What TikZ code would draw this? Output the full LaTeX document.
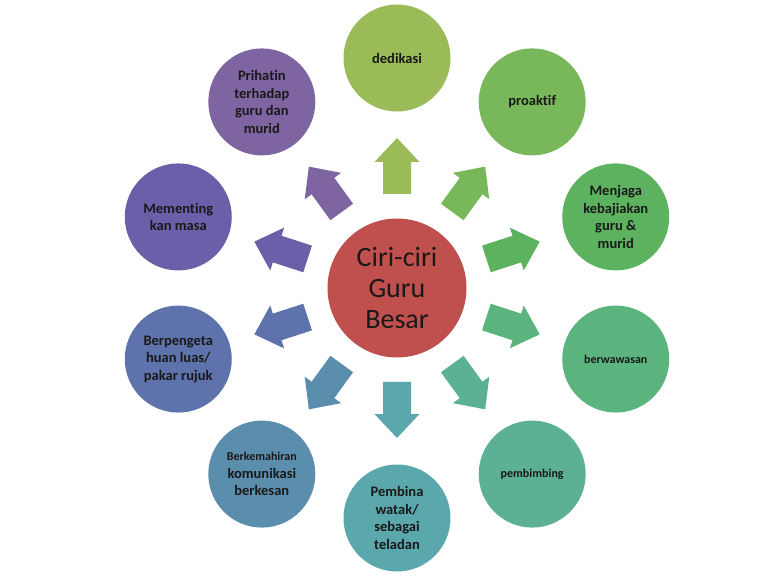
\documentclass[tikz,border=0pt]{standalone}
\usepackage{fontspec}
\setmainfont{Carlito}[Ligatures={NoCommon,TeX}]
\usetikzlibrary{calc}
\definecolor{cRed}{HTML}{C0504D}
\definecolor{c0}{HTML}{9BBB59}
\definecolor{c1}{HTML}{78B85A}
\definecolor{c2}{HTML}{5DB25F}
\definecolor{c3}{HTML}{5BB37D}
\definecolor{c4}{HTML}{5BB096}
\definecolor{c5}{HTML}{5AA8AC}
\definecolor{c6}{HTML}{5B8DAC}
\definecolor{c7}{HTML}{5E72AB}
\definecolor{c8}{HTML}{6A5FA8}
\definecolor{c9}{HTML}{7F64A2}
\begin{document}
\begin{tikzpicture}[x=1pt,y=1pt,
  leaf/.style={circle, minimum size=107pt, inner sep=0pt, align=center,
    font=\bfseries\fontsize{14.5}{17.5}\selectfont, text=black!90},
  hub/.style={circle, fill=cRed, minimum size=139pt, inner sep=0pt, align=center,
    font=\fontsize{28}{31}\selectfont, text=black!90},
  small/.style={font=\bfseries\fontsize{12}{15}\selectfont}]
\useasboundingbox (0,0) rectangle (768,576);
\node[hub] (ctr) at (397,288) {Ciri-ciri\\Guru\\Besar};
\foreach \k/\txt/\st in {
  0/{dedikasi}/leaf,
  1/{proaktif}/leaf,
  2/{Menjaga\\kebajiakan\\guru \&\\murid}/leaf,
  3/{berwawasan}/small,
  4/{pembimbing}/small,
  5/{Pembina\\watak/\\sebagai\\teladan}/leaf,
  6/{{\fontsize{12}{15}\selectfont Berkemahiran}\\komunikasi\\berkesan}/leaf,
  7/{Berpengeta\\huan luas/\\pakar rujuk}/leaf,
  8/{Mementing\\kan masa}/leaf,
  9/{Prihatin\\terhadap\\guru dan\\murid}/leaf}{
  \pgfmathsetmacro{\a}{90-36*\k}
  \node[leaf, \st, fill=c\k] (c\k) at ($(ctr.center)+(\a:230)$) {\txt};
  \begin{scope}[shift={(ctr.center)}, rotate=\a]
    \fill[c\k] (94,-14) -- (126,-14) -- (126,-22.5) -- (150,0) -- (126,22.5) -- (126,14) -- (94,14) -- cycle;
  \end{scope}
}
\end{tikzpicture}
\end{document}
